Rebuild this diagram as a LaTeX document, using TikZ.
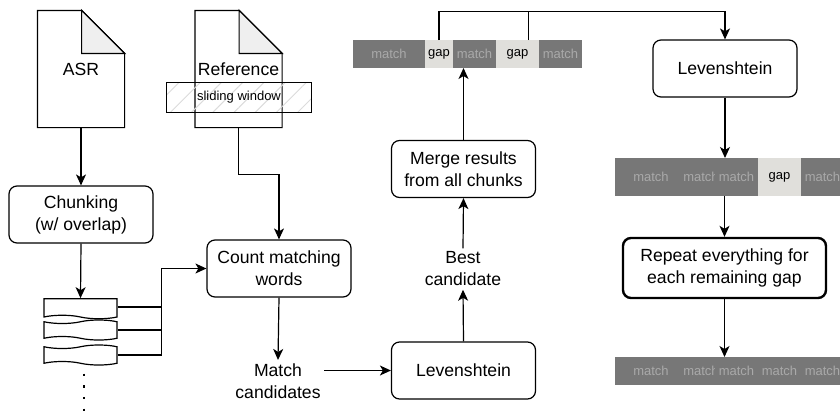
\documentclass[tikz,border=0pt]{standalone}
\usepackage{fontspec}
\setmainfont{Liberation Sans}
\usepackage{xcolor}
\usepackage{tikz}
\usetikzlibrary{arrows.meta,positioning,shapes.symbols,patterns.meta}
\definecolor{matchgray}{HTML}{777777}
\definecolor{matchtext}{HTML}{A9A9A9}
\definecolor{gapgray}{HTML}{E0DFDB}
\definecolor{foldgray}{HTML}{EFEFEF}
\tikzset{
	process/.style={draw, line width=1.2pt, rounded corners=8pt, minimum width=144pt, minimum height=57pt, align=center, fill=white, font=\fontsize{17.6}{22}\selectfont},
	lbl/.style={align=center, inner sep=3pt, font=\fontsize{17.6}{22}\selectfont},
	doc/.style={minimum width=86pt, minimum height=116pt, inner sep=0pt, font=\fontsize{17.6}{22}\selectfont},
	chunk/.style={draw, fill=white, line width=1.2pt, tape, tape bend top=in and out, tape bend bottom=out and in, tape bend height=3.5pt, minimum width=73pt, minimum height=20pt, inner sep=0pt},
	seg/.style={inner sep=0pt, outer sep=0pt, minimum height=28pt, font=\fontsize{13}{15}\selectfont},
	matchseg/.style={seg, fill=matchgray, text=matchtext},
	gapseg/.style={seg, fill=gapgray, text=black},
	arr/.style={-{Stealth[length=11pt,width=10pt,inset=3pt]}, line width=1.2pt}
}

\begin{document}
\begin{tikzpicture}[x=1pt, y=-1pt, line width=1.2pt]
	\useasboundingbox (0,0) rectangle (840,410);

	% input documents
	\node[doc] (asr) at (81,69) {ASR};
	\node[doc] (refdoc) at (238.5,69) {Reference};
	\foreach \d in {asr,refdoc}{
		\draw (\d.north west) -- ([xshift=-43pt]\d.north east) -- ([yshift=-43pt]\d.north east) -- (\d.south east) -- (\d.south west) -- cycle;
		\draw[fill=foldgray] ([xshift=-43pt]\d.north east) -- ([xshift=-43pt,yshift=-43pt]\d.north east) -- ([yshift=-43pt]\d.north east) -- cycle;
	}
	\node[minimum width=144pt, minimum height=29pt, inner sep=0pt,
		pattern={Lines[angle=45,distance=15pt,line width=1pt]}, pattern color=black!14] (window) at (239,97.5) {};
	\draw (window.north west) rectangle (window.south east);
	\node[font=\fontsize{13}{15}\selectfont] (windowtext) at (window) {sliding window};

	% chunking
	\node[process] (chunking) at (81,214.5) {Chunking\\(w/ overlap)};
	\node[chunk, tape bend top=none] (c1) at (80.5,307) {};
	\node[chunk] (c2) at (80.5,330) {};
	\node[chunk] (c3) at (80.5,355) {};
	\coordinate (dotstart) at (84,373.5);
	\coordinate (dotsend) at (84,412);
	\draw[line width=2.2pt, dash pattern=on 2.5pt off 9.2pt] (dotstart) -- (dotsend);

	\node[process] (count) at (279,268.5) {Count matching\\words};
	\node[lbl] (cands) at (278,381) {Match\\candidates};

	% levenshtein on candidates
	\node[process] (lev1) at (463.5,370.5) {Levenshtein};
	\node[lbl] (best) at (463,269) {Best\\candidate};
	\node[process] (merge) at (463.5,169) {Merge results\\from all chunks};

	% first alignment
	\node[matchseg, minimum width=72pt] (m1) at (389,54) {match};
	\node[gapseg, minimum width=28pt, right=0pt of m1] (g1) {\makebox[0pt]{gap}};
	\node[matchseg, minimum width=43pt, right=0pt of g1] (m2) {match};
	\node[gapseg, minimum width=43pt, right=0pt of m2] (g2) {gap};
	\node[matchseg, minimum width=43pt, right=0pt of g2] (m3) {match};

	\node[process] (lev2) at (725,68.5) {Levenshtein};

	% second alignment
	\node[matchseg, minimum width=72pt, minimum height=38pt] (b2m1) at (651,177) {match};
	\node[matchseg, minimum width=28pt, minimum height=38pt, right=0pt of b2m1] (b2m2) {\makebox[0pt]{match}};
	\node[matchseg, minimum width=43pt, minimum height=38pt, right=0pt of b2m2] (b2m3) {match};
	\node[gapseg, minimum width=43pt, minimum height=38pt, right=0pt of b2m3] (b2g) {gap};
	\node[matchseg, minimum width=43pt, minimum height=38pt, right=0pt of b2g] (b2m4) {match};

	\node[process, line width=2.4pt, minimum width=203pt, minimum height=60pt] (repeat) at (724.5,268) {Repeat everything for\\each remaining gap};

	% final alignment
	\node[matchseg, minimum width=72pt] (b3m1) at (651,371) {match};
	\node[matchseg, minimum width=28pt, right=0pt of b3m1] (b3m2) {\makebox[0pt]{match}};
	\node[matchseg, minimum width=43pt, right=0pt of b3m2] (b3m3) {match};
	\node[matchseg, minimum width=43pt, right=0pt of b3m3] (b3m4) {match};
	\node[matchseg, minimum width=43pt, right=0pt of b3m4] (b3m5) {match};

	% connectors
	\draw[arr] (asr.south) -- (chunking.north);
	\draw[arr] (chunking.south) -- (c1.north);
	\foreach \c in {c1,c2,c3}
		\draw (\c.east) -| ([xshift=-45pt]count.west);
	\draw[arr] ([xshift=-45pt]count.west) -- (count.west);
	\draw[arr] (refdoc.south) |- ([yshift=65pt]count.north) -- (count.north);
	\draw[arr] (count.south) -- (cands.north);
	\draw[arr] (cands.east |- lev1.west) -- (lev1.west);
	\draw[arr] (lev1.north) -- (best.south);
	\draw[arr] (best.north) -- (merge.south);
	\draw[arr] (merge.north) -- (merge.north |- m2.south);
	\draw[arr] (g1.north) |- ([yshift=28pt]lev2.north) -- (lev2.north);
	\draw ([xshift=11pt]g2.north) -- ++(0,-28);
	\draw[arr] (lev2.south) -- (lev2.south |- b2m3.north);
	\draw[arr] (b2m3.south -| repeat.north) -- (repeat.north);
	\draw[arr] (repeat.south) -- (repeat.south |- b3m3.north);
\end{tikzpicture}
\end{document}
